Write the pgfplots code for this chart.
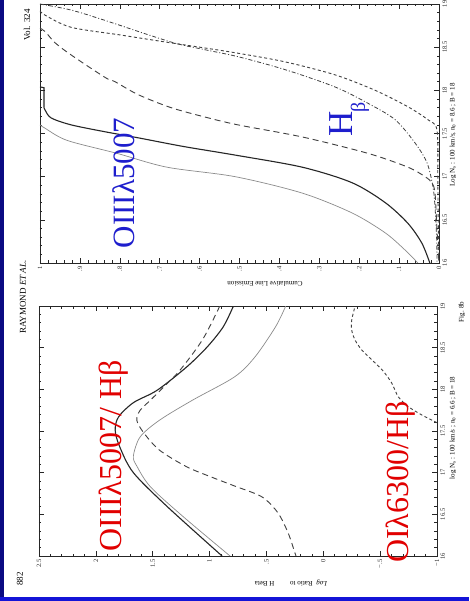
\documentclass[border=0pt]{standalone}
\usepackage{fontspec}
\setmainfont{Liberation Serif}
\usepackage{pgfplots}
\pgfplotsset{compat=1.18}
\definecolor{annblue}{RGB}{30,30,205}
\definecolor{annred}{RGB}{225,0,0}
\definecolor{navyedge}{RGB}{10,10,130}
\definecolor{edgeblue}{RGB}{20,20,215}
\begin{document}
\begin{tikzpicture}
\fill[white] (0pt,0pt) rectangle (469pt,-601pt);
\pgfplotsset{
  panel/.style={
    scale only axis, x dir=reverse,
    ymin=16, ymax=19, ytick={16,16.5,17,17.5,18,18.5,19},
    yticklabels={16,16.5,17,17.5,18,18.5,19},
    minor y tick num=4, minor x tick num=4,
    xtick pos=both, ytick pos=both,
    tick align=inside, major tick length=5pt, minor tick length=2.5pt,
    axis line style={line width=0.8pt, black!85},
    tick style={black!85, line width=0.5pt},
    ticklabel style={font=\fontsize{6.5}{6.5}\selectfont, text=black!85},
    xticklabel style={rotate=90, anchor=east},
    yticklabel pos=right,
    yticklabel style={rotate=90, anchor=north},
    /pgf/number format/assume math mode=true,
    clip=true,
  },
  dsolid/.style={black!85, line width=1.1pt},
  gsolid/.style={black!45, line width=0.7pt},
  ldash/.style={black!75, line width=0.9pt, dash pattern=on 6pt off 4pt},
  sdash/.style={black!75, line width=0.9pt, dash pattern=on 3pt off 2.5pt},
  ddot/.style={black!75, line width=0.8pt, dash pattern=on 4pt off 2pt on 1pt off 2pt},
}
% ---------- upper panel: cumulative line emission ----------
\begin{axis}[panel, at={(40pt,-4pt)}, anchor=north west, width=399pt, height=259pt,
  xmin=0, xmax=1, xtick={0,0.1,0.2,0.3,0.4,0.5,0.6,0.7,0.8,0.9,1},
  xticklabels={0,.1,.2,.3,.4,.5,.6,.7,.8,.9,1}]
\addplot[ddot, smooth, tension=0.5] coordinates {(1.0,19.0) (0.922,18.93) (0.837,18.81) (0.672,18.56) (0.586,18.47) (0.504,18.39) (0.386,18.24) (0.261,18.04) (0.178,17.85) (0.110,17.66) (0.060,17.39) (0.030,17.16) (0.015,16.88) (0.010,16.65) (0.006,16.3) (0.005,16.0)};
\addplot[sdash, smooth, tension=0.5] coordinates {(1.0,18.92) (0.987,18.87) (0.922,18.73) (0.797,18.64) (0.672,18.55) (0.586,18.49) (0.504,18.43) (0.386,18.33) (0.261,18.18) (0.160,18.00) (0.078,17.81) (0.028,17.66) (0.005,17.54) (0.003,17.0) (0.002,16.5) (0.0,16.0)};
\addplot[ldash, smooth, tension=0.5] coordinates {(1.0,18.72) (0.987,18.68) (0.962,18.55) (0.922,18.41) (0.837,18.15) (0.812,18.10) (0.754,17.95) (0.672,17.80) (0.586,17.69) (0.504,17.60) (0.343,17.46) (0.178,17.27) (0.078,17.11) (0.035,17.00) (0.018,16.93) (0.010,16.81) (0.005,16.38) (0.0,16.0)};
\addplot[dsolid] coordinates {(1.0,18.04) (0.99,18.03) (0.99,17.80)};
\addplot[dsolid, smooth, tension=0.5] coordinates {(0.99,17.80) (0.987,17.77) (0.972,17.68) (0.922,17.60) (0.837,17.52) (0.754,17.45) (0.641,17.35) (0.511,17.25) (0.343,17.11) (0.218,16.93) (0.135,16.70) (0.078,16.46) (0.043,16.23) (0.023,16.0)};
\addplot[gsolid, smooth, tension=0.5] coordinates {(1.0,17.60) (0.987,17.56) (0.932,17.42) (0.807,17.27) (0.682,17.11) (0.511,17.00) (0.343,16.81) (0.218,16.58) (0.135,16.35) (0.085,16.15) (0.053,16.0)};
\end{axis}
% ---------- lower panel: log ratio to H beta ----------
\begin{axis}[panel, at={(39pt,-306pt)}, anchor=north west, width=398pt, height=250pt,
  xmin=-1, xmax=2.5, xtick={-1,-0.5,0,0.5,1,1.5,2,2.5},
  xticklabels={−1,−.5,0,.5,1,1.5,2,2.5}]
\addplot[dsolid, smooth, tension=0.5] coordinates {(0.89,16.0) (1.37,16.59) (1.67,17.0) (1.79,17.31) (1.83,17.51) (1.80,17.67) (1.67,17.84) (1.46,17.99) (1.20,18.27) (1.02,18.51) (0.88,18.75) (0.79,19.0)};
\addplot[gsolid, smooth, tension=0.5] coordinates {(0.82,16.0) (1.23,16.47) (1.52,16.83) (1.64,17.08) (1.67,17.2) (1.61,17.43) (1.44,17.63) (1.15,17.87) (0.78,18.15) (0.60,18.39) (0.42,18.75) (0.33,19.0)};
\addplot[ldash, smooth, tension=0.5] coordinates {(0.91,19.0) (1.06,18.6) (1.26,18.23) (1.41,18.02) (1.52,17.87) (1.61,17.75) (1.64,17.63) (1.58,17.48) (1.44,17.27) (1.20,17.07) (0.97,16.94) (0.78,16.84) (0.54,16.71) (0.40,16.52) (0.31,16.28) (0.25,16.04) (0.24,16.0)};
\addplot[sdash, smooth, tension=0.5] coordinates {(-1.0,17.6) (-0.87,17.69) (-0.75,17.79) (-0.66,17.91) (-0.60,18.08) (-0.52,18.23) (-0.43,18.35) (-0.34,18.47) (-0.28,18.59) (-0.25,18.71) (-0.25,18.83) (-0.28,19.0)};
\end{axis}
% ---------- axis labels ----------
\node[rotate=180, font=\fontsize{7}{7}\selectfont] at (265pt,-284pt) {Cumulative Line Emission};
\node[rotate=180, font=\fontsize{7}{7}\selectfont] at (291pt,-583pt) {\textit{Log}\; Ratio to \qquad H Beta};
\node[rotate=90, font=\fontsize{7}{7}\selectfont] at (453pt,-135pt) {Log N$_{\rm s}$ : 100 km/s, n$_{\rm 0}$ = 8.6 ; B = 18};
\node[rotate=90, font=\fontsize{7}{7}\selectfont] at (453pt,-428pt) {log N$_{\rm s}$ : 100 km/s ; n$_{\rm 0}$ = 6.6 ; B = 18};
% ---------- page furniture ----------
\node[rotate=90, font=\fontsize{9}{9}\selectfont] at (27pt,-25pt) {Vol. 324};
\node[rotate=90, font=\fontsize{9}{9}\selectfont] at (23pt,-297pt) {RAYMOND \textit{ET AL.}};
\node[rotate=90, font=\fontsize{9}{9}\selectfont] at (20pt,-579pt) {882};
\node[rotate=90, font=\fontsize{7}{7}\selectfont, inner sep=0pt] at (462pt,-312pt) {Fig. 8b};
% ---------- annotations ----------
\node[rotate=90, text=annblue, font=\fontsize{31}{31}\selectfont] at (124pt,-183pt) {OIIIλ5007};
\node[rotate=90, text=annblue, font=\fontsize{35}{35}\selectfont] at (341pt,-124pt) {H};
\node[rotate=90, text=annblue, font=\fontsize{20}{20}\selectfont] at (360pt,-107pt) {β};
\node[rotate=90, text=annred, font=\fontsize{32}{32}\selectfont] at (114pt,-456pt) {OIIIλ5007/ Hβ};
\node[rotate=90, text=annred, font=\fontsize{32}{32}\selectfont] at (401pt,-482pt) {OIλ6300/Hβ};
% ---------- border ----------
\fill[navyedge] (0pt,0pt) rectangle (4pt,-601pt);
\fill[edgeblue] (0pt,-597pt) rectangle (469pt,-601pt);
\pgfresetboundingbox
\useasboundingbox (0pt,0pt) rectangle (469pt,-601pt);
\end{tikzpicture}
\end{document}
